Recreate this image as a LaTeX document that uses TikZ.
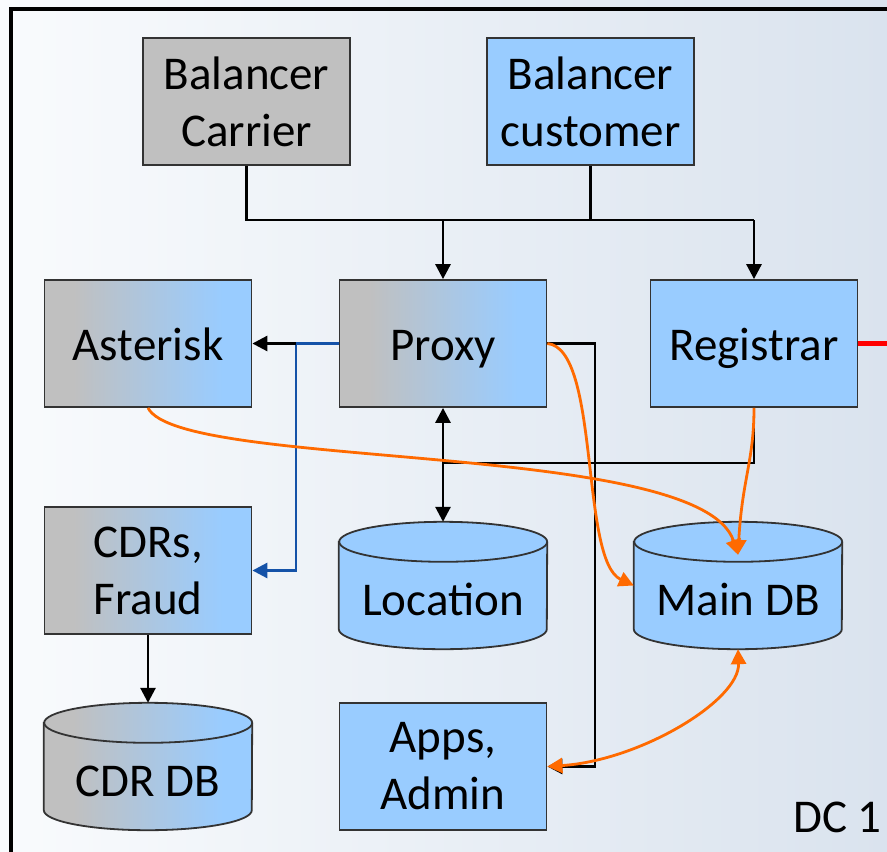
\documentclass[tikz,border=0pt]{standalone}
\usepackage{fontspec}
\setmainfont{Carlito}
\usetikzlibrary{arrows.meta}

\definecolor{boxblue}{HTML}{99CCFF}
\definecolor{boxgray}{HTML}{C0C0C0}
\definecolor{flowor}{HTML}{FF6A00}
\definecolor{cdrblue}{HTML}{1452A8}
\definecolor{bgleft}{HTML}{F9FBFD}
\definecolor{bgright}{HTML}{DAE3EE}

% gray on the left, blue on the right
\pgfdeclarehorizontalshading{graytoblue}{100bp}{color(0bp)=(boxgray); color(32bp)=(boxgray); color(68bp)=(boxblue); color(100bp)=(boxblue)}

\tikzset{
  box/.style={draw=black!80, line width=1.8pt, minimum width=207pt, minimum height=127pt,
    inner sep=0pt, align=center, font=\fontsize{47}{57}\selectfont},
  oneline/.style={text height=33pt, text depth=0pt},
  bluebox/.style={box, fill=boxblue},
  graybox/.style={box, fill=boxgray},
  mixbox/.style={box, shade, shading=graytoblue},
  dbarea/.style={minimum width=208pt, minimum height=127pt, inner sep=0pt},
  dbtext/.style={font=\fontsize{47}{57}\selectfont, inner sep=0pt, text height=33pt, text depth=0pt},
  link/.style={line width=2.8pt, draw=black},
  flow/.style={line width=2.8pt, draw=flowor},
  tip/.style={-{Triangle[length=15pt,width=15pt]}},
  tips/.style={{Triangle[length=15pt,width=15pt]}-{Triangle[length=15pt,width=15pt]}},
}

% database cylinder over the area of a named node
\newcommand\dbcylinder[2]{%
  \path[#2, draw=black!80, line width=1.8pt]
    ([yshift=-20pt]#1.north west) -- ([yshift=20pt]#1.south west)
    arc[start angle=180, end angle=360, x radius=104pt, y radius=20pt]
    -- ([yshift=-20pt]#1.north east)
    arc[start angle=0, end angle=180, x radius=104pt, y radius=20pt] -- cycle;
  \draw[draw=black!80, line width=1.8pt] ([yshift=-20pt]#1.north east)
    arc[start angle=0, end angle=-180, x radius=104pt, y radius=20pt];
}

\begin{document}
\begin{tikzpicture}[x=1pt, y=1pt]
  \useasboundingbox (0,0) rectangle (887,-852);
  \shade[left color=bgleft, right color=bgright] (0,0) rectangle (887,-852);
  \draw[line width=3.5pt] (11,-870) -- (11,-9) -- (900,-9);

  % servers
  \node[graybox] (carrier)   at (246.5,-101.5) {Balancer\\Carrier};
  \node[bluebox] (customer)  at (590.5,-101.5) {Balancer\\customer};
  \node[mixbox, oneline]  (asterisk)  at (148,-343.5)   {Asterisk};
  \node[mixbox, oneline]  (proxy)     at (443,-343.5)   {Proxy};
  \node[bluebox, oneline] (registrar) at (754,-343.5)   {Registrar};
  \node[mixbox]  (cdrs)      at (148,-570.5)   {CDRs,\\Fraud};
  \node[bluebox] (apps)      at (443,-766.5)   {Apps,\\Admin};

  % databases
  \node[dbarea] (location) at (443,-585.5) {};
  \node[dbarea] (maindb)   at (738,-585.5) {};
  \node[dbarea] (cdrdb)    at (148,-766.5) {};
  \dbcylinder{location}{fill=boxblue}
  \dbcylinder{maindb}{fill=boxblue}
  \dbcylinder{cdrdb}{shade, shading=graytoblue}
  \node[dbtext] (location-t) at (443,-599) {Location};
  \node[dbtext] (maindb-t)   at (738,-599) {Main DB};
  \node[dbtext] (cdrdb-t)    at (148,-780) {CDR DB};

  \node[dbtext, anchor=base east] (dc) at (882,-832) {DC 1};

  % balancers to proxy and registrar
  \coordinate (bus) at (0,-220);
  \draw[link] (carrier.south) |- (registrar.north |- bus);
  \draw[link] (customer.south) -- (customer.south |- bus);
  \draw[link, tip] (proxy.north |- bus) -- (proxy.north);
  \draw[link, tip] (registrar.north |- bus) -- (registrar.north);

  % proxy to asterisk and CDRs
  \coordinate (split) at (296,-343.5);
  \draw[link, draw=cdrblue, tip] (proxy.west) -- (split) |- (cdrs.east);
  \draw[link, tip] (split) -- (asterisk.east);

  % proxy, location and registrar
  \coordinate (regjoin) at (0,-463);
  \draw[link] (registrar.south) |- (proxy.south |- regjoin);
  \draw[link, tips] (proxy.south) -- (location.north);

  % proxy to apps
  \coordinate (appsbus) at (595,0);
  \draw[link, tip] (proxy.east) -- (proxy.east -| appsbus) -- (appsbus |- apps.east) -- (apps.east);

  % CDRs to CDR DB
  \draw[link, tip] (cdrs.south) -- (cdrdb.north);

  % database traffic
  \coordinate (mtop) at ([yshift=-33pt]maindb.north);
  \draw[flow, tip] (asterisk.south) .. controls +(32,-63) and +(-37,115) .. (mtop);
  \draw[flow, tip] (registrar.south) .. controls +(0,-53) and +(4,75) .. (mtop);
  \draw[flow, tip] (proxy.east) .. controls +(53,-5) and +(-54,25) .. (maindb.west);
  \draw[flow, tips] (apps.east) .. controls +(93,6) and +(2,-51) .. (maindb.south);

  % link to the other data centre
  \coordinate (offpage) at (887,-343.5);
  \draw[line width=4.5pt, red] (registrar.east) -- (offpage);
\end{tikzpicture}
\end{document}
